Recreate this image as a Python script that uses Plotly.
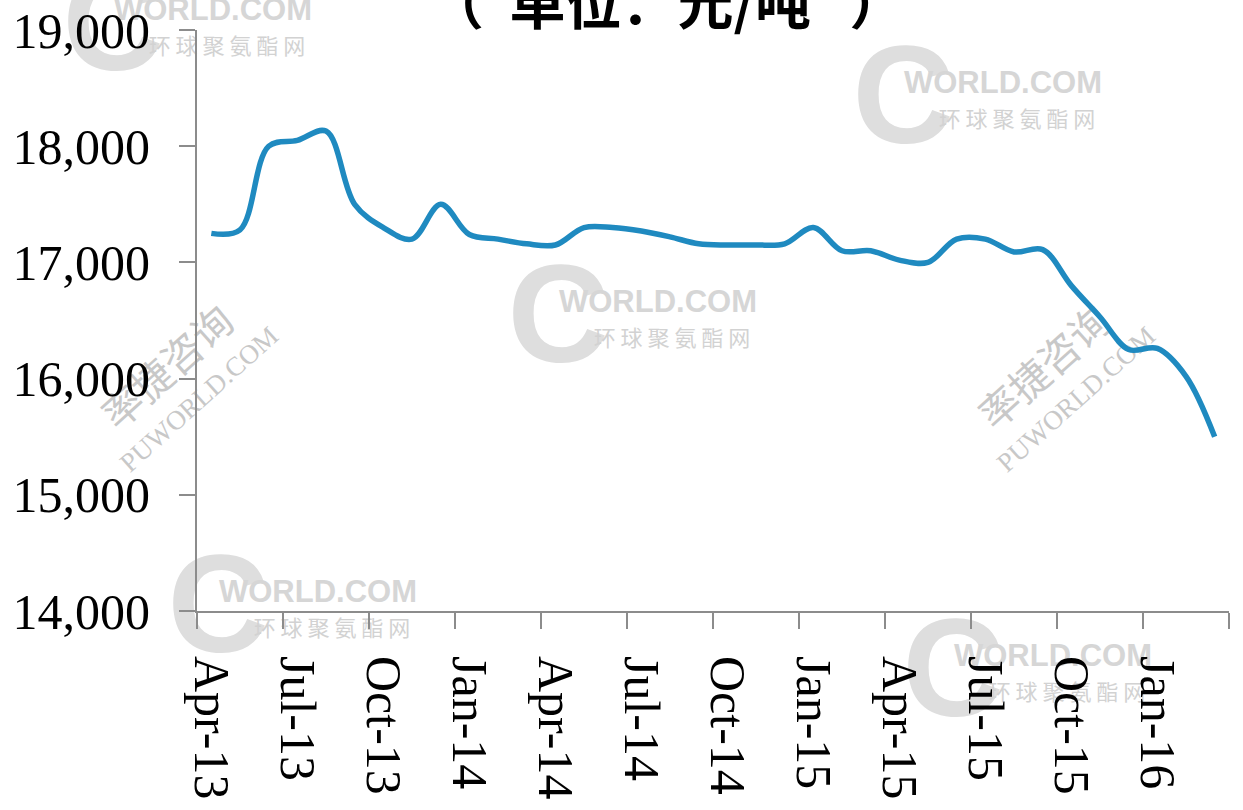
import plotly.graph_objects as go

# ---------------- data ----------------
months = ["Apr-13", "May-13", "Jun-13", "Jul-13", "Aug-13", "Sep-13",
          "Oct-13", "Nov-13", "Dec-13", "Jan-14", "Feb-14", "Mar-14",
          "Apr-14", "May-14", "Jun-14", "Jul-14", "Aug-14", "Sep-14",
          "Oct-14", "Nov-14", "Dec-14", "Jan-15", "Feb-15", "Mar-15",
          "Apr-15", "May-15", "Jun-15", "Jul-15", "Aug-15", "Sep-15",
          "Oct-15", "Nov-15", "Dec-15", "Jan-16", "Feb-16", "Mar-16"]
prices = [17250, 17280, 18000, 18050, 18130, 17500,
          17300, 17200, 17500, 17240, 17200, 17160,
          17150, 17300, 17300, 17270, 17220, 17160,
          17150, 17150, 17160, 17300, 17100, 17100,
          17020, 17000, 17200, 17200, 17090, 17110,
          16800, 16530, 16250, 16260, 16020, 15500]
NB = "\u00a0"
title_text = "（" + NB * 2 + "单位：元/吨" + NB * 3 + "）"
y_ticks = [14000, 15000, 16000, 17000, 18000, 19000]

# ---------------- geometry helpers (layout only) ----------------
W, H = 1243, 810
PL, PR, PT, PB = 197, 1229, 30, 611


def px(x):
    return (x - PL) / (PR - PL)


def py(y):
    return (PB - y) / (PB - PT)


x_idx = list(range(len(months)))
label_idx = x_idx[::3]
label_txt = [months[i] for i in label_idx]
boundary_ticks = [i - 0.5 for i in range(0, len(months) + 1, 3)]

AXIS_GRAY = "#8c8c8c"
LINE_BLUE = "#1f8ac0"

fig = go.Figure()
fig.add_trace(go.Scatter(
    x=x_idx, y=prices, mode="lines",
    line=dict(color=LINE_BLUE, width=5.5, shape="spline", smoothing=1.0),
    hoverinfo="skip", showlegend=False,
))

# ---------------- watermarks (decorative, drawn below the line) ----------------
shapes = []


def wm(cx, cy, text, size, color, family, weight="normal", angle=0):
    shapes.append(dict(
        type="rect", xref="paper", yref="paper", layer="below",
        x0=px(cx - 1), x1=px(cx + 1), y0=py(cy + 1), y1=py(cy - 1),
        line=dict(width=0), fillcolor="rgba(0,0,0,0)",
        label=dict(text=text, textposition="middle center", textangle=angle,
                   font=dict(size=size, color=color, family=family, weight=weight)),
    ))


logos = [(305, 6), (1095, 79), (750, 298), (410, 588), (1145, 652)]
for xe, yc in logos:
    wm(xe - 192, yc + 2, "C", 140, "#dedede", "Liberation Sans", "bold")
    wm(xe - 92, yc, "WORLD.COM", 31, "#d6d6d6", "Liberation Sans", "bold")
    wm(xe - 78, yc + 42, "环 球 聚 氨 酯 网", 22, "#d2d2d2", "Noto Sans CJK SC")

for ox in (0, 877):
    wm(170 + ox, 370, "率捷咨询", 40, "#c8c8c8", "Noto Sans CJK SC", angle=-42)
    wm(197 + ox, 397, "PUWORLD.COM", 27, "#c8c8c8", "Liberation Serif", angle=-42)

fig.update_layout(
    width=W, height=H,
    margin=dict(l=PL, r=W - PR, t=PT, b=H - PB, autoexpand=False),
    paper_bgcolor="white", plot_bgcolor="white",
    showlegend=False,
    shapes=shapes,
    xaxis=dict(
        range=[-0.5, len(months) - 0.5], automargin=False,
        tickmode="array", tickvals=label_idx, ticktext=label_txt,
        tickangle=90, ticks="",
        tickfont=dict(family="Liberation Serif", size=50, color="black"),
        ticklabelstandoff=33,
        showline=True, linecolor=AXIS_GRAY, linewidth=2,
        showgrid=False, zeroline=False,
        minor=dict(tickmode="array", tickvals=boundary_ticks, ticks="outside",
                   ticklen=16, tickwidth=2, tickcolor=AXIS_GRAY, showgrid=False),
    ),
    yaxis=dict(
        range=[14000, 19000], automargin=False,
        tickmode="array", tickvals=y_ticks, tickformat=",",
        ticks="outside", ticklen=16, tickwidth=2, tickcolor=AXIS_GRAY,
        tickfont=dict(family="Liberation Serif", size=50, color="black"),
        ticklabelstandoff=19,
        showline=True, linecolor=AXIS_GRAY, linewidth=2,
        showgrid=False, zeroline=False,
    ),
    annotations=[dict(
        text=title_text, xref="paper", yref="paper",
        x=px(666), y=py(0), xanchor="center", yanchor="middle",
        showarrow=False,
        font=dict(family="Noto Sans CJK SC", size=56, color="black", weight="bold"),
    )],
)

fig.write_html("out.html",
               config={"displayModeBar": False},
               post_script="document.body.style.margin='0';document.body.style.overflow='hidden';")
